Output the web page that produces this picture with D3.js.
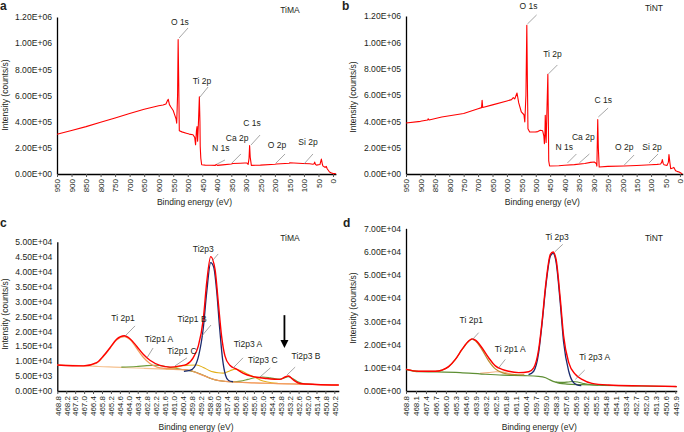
<!DOCTYPE html>
<html>
<head>
<meta charset="utf-8">
<script src="https://cdn.jsdelivr.net/npm/d3@7"></script>
<style>
body { margin: 0; background: #fff; }
svg text { font-family: "Liberation Sans", Arial, Helvetica, sans-serif; fill: #231f20; }
</style>
</head>
<body>
<svg id="chart" width="684" height="432"></svg>
<script>
// ---- data: [binding energy (eV), intensity (counts/s)] ----
var surveyTiMA = [[950,304000],[900,333000],[850,362000],[800,395000],[750,428000],[700,462000],[650,495000],[600,522000],[585,527000],[575,535000],[570,560000],[567,571000],[563,530000],[558,512000],[550,485000],[545,452000],[540,420000],[538,388000],[535,600000],[533,1027000],[531,700000],[529,330000],[520,322000],[505,312000],[495,305000],[482,300000],[476,280000],[473,223000],[470,330000],[468,363000],[466,250000],[463,400000],[460,591000],[458,400000],[457,210000],[455,120000],[452,71000],[440,68000],[420,67000],[405,66000],[402,73000],[398,66000],[380,70000],[350,76000],[345,80000],[320,82000],[304,84000],[296,84000],[292,74000],[289,120000],[287,218000],[285,130000],[281,66000],[250,68000],[200,74000],[195,76000],[150,82000],[149,86000],[120,82000],[104,80000],[80,78000],[69,75000],[65,78000],[63,91000],[60,72000],[57,68000],[45,72000],[40,114000],[37,80000],[35,62000],[28,52000],[23,58000],[20,40000],[12,15000],[5,8000],[0,5000],[-10,2000]];

var surveyTiNT = [[950,387000],[900,400000],[875,410000],[873,420000],[870,410000],[826,433000],[750,460000],[700,495000],[688,504000],[686,560000],[684,505000],[650,525000],[600,555000],[584,565000],[578,580000],[573,570000],[565,615000],[559,540000],[550,471000],[541,450000],[538,395000],[534,600000],[531,1129000],[529,700000],[527,344000],[521,319000],[500,320000],[493,322000],[484,332000],[476,328000],[472,290000],[470,230000],[468,320000],[467,446000],[465,300000],[464,240000],[461,500000],[458,757000],[456,350000],[455,100000],[452,61000],[420,63000],[400,66000],[366,71000],[330,80000],[310,88000],[297,91000],[290,80000],[288,60000],[286,300000],[285,413000],[283,200000],[280,53000],[250,58000],[194,61000],[150,65000],[100,70000],[79,73000],[67,76000],[63,90000],[61,109000],[58,80000],[55,70000],[45,65000],[40,90000],[38,147000],[35,90000],[32,40000],[25,45000],[21,50000],[15,25000],[10,20000],[3,15000],[-5,5000],[-8,2000]];

// TiMA Ti 2p high resolution
var tiMAEnvelope = [[468.8,8700],[467.05,8400],[466.16,9500],[465.71,11700],[465.26,14500],[464.82,17300],[464.3,18500],[463.92,17500],[463.47,15000],[463.03,12300],[462.58,10300],[461.91,8600],[461.24,8000],[460.56,8400],[460.12,8900],[459.67,11200],[459.33,15100],[459.0,24000],[458.77,36300],[458.5,45000],[458.21,40700],[457.99,29600],[457.77,18400],[457.54,11700],[457.21,8600],[456.76,7300],[456.31,5900],[455.64,4800],[454.74,4200],[453.85,3900],[453.51,4700],[453.29,5000],[452.95,3700],[452.51,2500],[451.39,2200],[449.9,2000]];
var tiMA2p3 = [[460.3,6600],[459.9,6900],[459.6,8000],[459.3,12000],[459.0,21000],[458.77,33000],[458.5,43000],[458.3,41500],[458.1,33500],[457.9,21000],[457.7,10500],[457.5,5200],[457.3,3500],[457.0,3100]];
var tiMA2p1 = [[468.8,8700],[467.0,8400],[466.16,9300],[465.71,11500],[465.26,14300],[464.82,17100],[464.3,18200],[463.92,17200],[463.47,14300],[463.03,11300],[462.58,9200],[462.1,8000],[461.5,7500],[460.5,7200],[459.9,6900],[459.4,6000],[458.8,4800],[458.3,3900],[457.5,3200],[456.0,2800],[454.0,2500],[452.0,2200],[449.9,2000]];
var tiMABackground = [[468.8,8700],[467.0,8500],[466.0,8200],[465.0,8000],[464.0,7800],[463.0,7600],[462.0,7400],[461.0,7200],[460.0,6900],[459.5,6300],[459.0,5300],[458.5,4200],[458.0,3500],[457.0,3000],[455.0,2600],[453.0,2400],[451.0,2100],[449.9,2000]];
var tiMAGreen = [[464.5,8000],[463.5,8200],[462.8,8500],[462.2,8600],[461.6,8300],[461.0,7700],[460.5,7300],[460.0,6900],[459.5,6300],[459.0,5300],[458.5,4200],[458.0,3500],[457.0,3100],[456.5,3300],[456.0,3900],[455.5,4500],[455.0,4700],[454.5,4400],[454.0,4000],[453.6,4300],[453.3,4800],[453.0,4200],[452.6,3000],[452.2,2400],[451.5,2200]];
var tiMAGold = [[461.5,7500],[460.9,7800],[460.56,8300],[460.0,8600],[459.44,8700],[459.0,7900],[458.6,6900],[458.33,6400],[458.0,6100],[457.65,6000],[457.2,6800],[456.87,7300],[456.5,6900],[456.0,5600],[455.5,4500],[455.19,3700],[454.7,3000],[454.0,2600]];

// TiNT Ti 2p high resolution
var tiNTEnvelope = [[468.8,9300],[467.91,8500],[466.74,8500],[466.27,9000],[465.81,10500],[465.34,13600],[464.87,17900],[464.4,21500],[464.17,22400],[463.93,21900],[463.47,18600],[463.0,14300],[462.53,10800],[462.06,9300],[461.6,8500],[460.89,7900],[460.19,8300],[459.84,10000],[459.49,17900],[459.26,29400],[458.98,46600],[458.67,58800],[458.48,59800],[458.27,56700],[457.97,39400],[457.74,23700],[457.38,12200],[456.92,7200],[456.45,5000],[455.75,3300],[454.58,2600],[452.24,2200],[449.8,1900]];
var tiNT2p3 = [[460.2,7000],[459.84,8500],[459.49,16500],[459.26,28500],[458.98,45500],[458.67,58000],[458.48,59200],[458.27,55500],[457.97,37500],[457.74,21000],[457.38,8500],[457.1,4000],[456.8,2600],[456.5,2300]];
var tiNT2p1 = [[468.8,9300],[467.9,8500],[466.74,8500],[466.27,9000],[465.81,10400],[465.34,13500],[464.87,17800],[464.4,21400],[464.17,22300],[463.93,21600],[463.47,17800],[463.0,13000],[462.53,9500],[462.06,7900],[461.6,7200],[461.0,7000],[460.5,6900]];
var tiNT2p1A = [[463.6,7600],[463.0,7900],[462.5,8300],[462.0,8200],[461.5,7400],[461.0,6900]];
var tiNTBackground = [[468.8,9300],[467.9,8300],[466.7,8200],[465.0,7900],[463.5,7300],[462.0,6800],[460.5,6600],[459.5,6300],[459.0,5700],[458.7,4800],[458.3,3800],[458.0,3300],[457.5,3000],[456.5,2700],[455.0,2400],[453.0,2200],[449.8,1900]];
var tiNT2p3A = [[458.3,3800],[457.8,3700],[457.4,3900],[457.06,4100],[456.7,3800],[456.3,3200],[455.8,2700],[455.3,2500]];

// ---- axis tick labels ----
var surveyTicks = [950,900,850,800,750,700,650,600,550,500,450,400,350,300,250,200,150,100,50,0];
var tiMATicks = ["468.8","468.2","467.6","467.0","466.4","465.8","465.2","464.6","464.0","463.4","462.8","462.2","461.6","461.0","460.4","459.8","459.2","458.6","458.0","457.4","456.8","456.2","455.6","455.0","454.4","453.8","453.2","452.6","452.0","451.4","450.8","450.2"];
var tiNTTicks = ["468.8","468.1","467.4","466.7","466.0","465.3","464.6","463.9","463.2","462.5","461.8","461.1","460.4","459.7","459.0","458.3","457.6","456.9","456.2","455.5","454.8","454.1","453.4","452.7","452.0","451.3","450.6","449.9"];

// ---- peak labels: text at (e, v), leader line from (e1, v1) to (e2, v2) ----
var labelsA = [
  {t:"O 1s", e:527, v:1162000, e1:499, v1:1116000, e2:530, v2:1039000},
  {t:"Ti 2p", e:451, v:711000, e1:430, v1:665000, e2:458, v2:588000},
  {t:"C 1s", e:279, v:390000, e1:251, v1:298000, e2:282, v2:222000},
  {t:"Ca 2p", e:330, v:275000, e1:317, v1:153000, e2:348, v2:84000},
  {t:"N 1s", e:386, v:199000, e1:372, v1:107000, e2:399, v2:76000},
  {t:"O 2p", e:193, v:222000, e1:165, v1:153000, e2:196, v2:84000},
  {t:"Si 2p", e:86, v:245000, e1:69, v1:153000, e2:100, v2:76000}
];
var labelsB = [
  {t:"O 1s", e:525, v:1276000, e1:497, v1:1208000, e2:529, v2:1139000},
  {t:"Ti 2p", e:442, v:911000, e1:425, v1:828000, e2:456, v2:760000},
  {t:"C 1s", e:266, v:562000, e1:249, v1:501000, e2:283, v2:433000},
  {t:"Ca 2p", e:335, v:281000, e1:314, v1:152000, e2:349, v2:84000},
  {t:"N 1s", e:401, v:205000, e1:359, v1:152000, e2:390, v2:84000},
  {t:"O 2p", e:193, v:205000, e1:159, v1:144000, e2:193, v2:68000},
  {t:"Si 2p", e:97, v:205000, e1:76, v1:152000, e2:107, v2:84000}
];
var labelsC = [
  {t:"Ti 2p1", e:464.39, v:24400, e1:463.58, v1:21800, e2:464.25, v2:18400},
  {t:"Ti2p1 A", e:461.97, v:17400, e1:462.37, v1:14400, e2:462.78, v2:11100},
  {t:"Ti2p1 C", e:460.43, v:13400, e1:460.09, v1:11100, e2:460.9, v2:8400},
  {t:"Ti2p1 B", e:459.75, v:24100, e1:458.48, v1:22100, e2:459.15, v2:18100},
  {t:"Ti2p3", e:459.0, v:47600, e1:458.0, v1:45900, e2:458.41, v2:43500},
  {t:"Ti2p3 A", e:456.0, v:15700, e1:456.33, v1:11100, e2:457.0, v2:7700},
  {t:"Ti2p3 C", e:455.0, v:10400, e1:454.5, v1:7700, e2:455.19, v2:4700},
  {t:"Ti2p3 B", e:452.1, v:11700, e1:452.83, v1:8000, e2:453.37, v2:5400}
];
var labelsD = [
  {t:"Ti 2p3", e:458.2, v:66300, e1:457.8, v1:63100, e2:458.37, v2:59800},
  {t:"Ti 2p1", e:464.22, v:30400, e1:463.7, v1:25100, e2:464.17, v2:21900},
  {t:"Ti 2p1 A", e:461.48, v:17900, e1:461.83, v1:13600, e2:462.29, v2:10000},
  {t:"Ti 2p3 A", e:455.56, v:14800, e1:456.26, v1:9000, e2:456.92, v2:5000}
];
var arrowC = {e:453.55, top:25400, base:17100, tip:14400};

var svg = d3.select("#chart");

function sci(d) {
  var p = d.toExponential(2).split("e");
  var ex = parseInt(p[1], 10);
  return p[0] + "E" + (ex < 0 ? "-" : "+") + (Math.abs(ex) < 10 ? "0" : "") + Math.abs(ex);
}

function drawPanel(cfg) {
  var g = svg.append("g");
  var xScale = d3.scaleLinear().domain(cfg.xDomain).range([cfg.left, cfg.right]);
  var yScale = d3.scaleLinear().domain([0, cfg.yMax]).range([cfg.bottom, cfg.top]);

  //Y axis
  g.append("g")
    .attr("transform", "translate(" + cfg.left + ",0)")
    .call(d3.axisLeft(yScale).tickValues(d3.range(0, cfg.yMax + cfg.yStep / 2, cfg.yStep)).tickFormat(sci).tickSize(0).tickPadding(5))
    .call(function (a) {
      a.select(".domain").attr("stroke", "#000").attr("stroke-width", 1.3);
      a.selectAll("text").attr("font-size", "8.6px").attr("fill", "#231f20").attr("font-family", null);
    });

  //X axis
  var xAxis = d3.axisBottom(xScale).tickValues(cfg.ticks.map(Number))
    .tickFormat(function (d, i) { return cfg.tickText ? cfg.tickText[i] : d; })
    .tickSize(3).tickSizeOuter(0);
  g.append("g")
    .attr("transform", "translate(0," + cfg.bottom + ")")
    .call(xAxis)
    .call(function (a) {
      a.select(".domain").attr("stroke", "#000").attr("stroke-width", 1.3);
      a.selectAll("line").attr("stroke", "#555");
      a.selectAll("text")
        .attr("font-size", "8px").attr("fill", "#231f20").attr("font-family", null)
        .attr("text-anchor", "end")
        .attr("transform", "rotate(-90)")
        .attr("x", -5).attr("y", 0).attr("dy", "0.35em");
    });

  //Curves
  var line = d3.line()
    .x(function (d) { return xScale(d[0]); })
    .y(function (d) { return yScale(d[1]); });
  cfg.series.forEach(function (s) {
    g.append("path")
      .datum(s.data)
      .attr("fill", "none")
      .attr("stroke", s.color)
      .attr("stroke-width", s.w)
      .attr("stroke-linejoin", "round")
      .attr("d", line.curve(s.smooth ? d3.curveMonotoneX : d3.curveLinear));
  });

  //Peak labels
  cfg.labels.forEach(function (l) {
    g.append("line")
      .attr("x1", xScale(l.e1)).attr("y1", yScale(l.v1))
      .attr("x2", xScale(l.e2)).attr("y2", yScale(l.v2))
      .attr("stroke", "#808080").attr("stroke-width", 0.7);
    g.append("text")
      .attr("x", xScale(l.e)).attr("y", yScale(l.v))
      .attr("dy", "0.35em")
      .attr("text-anchor", "middle")
      .attr("font-size", "8.5px")
      .text(l.t);
  });

  if (cfg.arrow) {
    var ax = xScale(cfg.arrow.e);
    g.append("line")
      .attr("x1", ax).attr("x2", ax)
      .attr("y1", yScale(cfg.arrow.top)).attr("y2", yScale(cfg.arrow.base) + 1)
      .attr("stroke", "#000").attr("stroke-width", 1.8);
    g.append("path")
      .attr("d", "M" + (ax - 4) + "," + yScale(cfg.arrow.base) + "L" + (ax + 4) + "," + yScale(cfg.arrow.base) + "L" + ax + "," + yScale(cfg.arrow.tip) + "Z")
      .attr("fill", "#000");
  }

  //Titles
  g.append("text")
    .attr("x", cfg.letterX).attr("y", cfg.letterY)
    .attr("font-size", "12px").attr("font-weight", "bold")
    .text(cfg.letter);
  g.append("text")
    .attr("x", cfg.sampleX).attr("y", cfg.sampleY)
    .attr("text-anchor", "middle")
    .attr("font-size", "8.5px")
    .text(cfg.sample);
  g.append("text")
    .attr("x", (cfg.left + cfg.right) / 2 - 2).attr("y", cfg.xTitleY)
    .attr("text-anchor", "middle")
    .attr("font-size", "8.5px")
    .text("Binding energy (eV)");
  g.append("text")
    .attr("transform", "translate(" + cfg.yTitleX + "," + cfg.yTitleY + ") rotate(-90)")
    .attr("text-anchor", "middle")
    .attr("font-size", "8.5px")
    .text("Intensity (counts/s)");
}

drawPanel({
  letter: "a", letterX: 0, letterY: 10,
  sample: "TiMA", sampleX: 290, sampleY: 13,
  left: 57, right: 335.9, top: 17, bottom: 174,
  xDomain: [950, -10], yMax: 1.2e6, yStep: 2e5,
  ticks: surveyTicks,
  series: [{data: surveyTiMA, color: "#ff0000", w: 1.1}],
  labels: labelsA,
  xTitleY: 205,
  yTitleX: 7.5, yTitleY: 95
});

drawPanel({
  letter: "b", letterX: 342, letterY: 10,
  sample: "TiNT", sampleX: 654, sampleY: 11,
  left: 406, right: 682.8, top: 16, bottom: 174,
  xDomain: [950, -10], yMax: 1.2e6, yStep: 2e5,
  ticks: surveyTicks,
  series: [{data: surveyTiNT, color: "#ff0000", w: 1.1}],
  labels: labelsB,
  xTitleY: 205,
  yTitleX: 355.5, yTitleY: 97
});

drawPanel({
  letter: "c", letterX: 0, letterY: 227,
  sample: "TiMA", sampleX: 290, sampleY: 241,
  left: 57.3, right: 338.8, top: 241.7, bottom: 391,
  xDomain: [468.8, 449.9], yMax: 5e4, yStep: 5e3,
  ticks: tiMATicks, tickText: tiMATicks,
  series: [
    {data: tiMABackground, color: "#f5c18f", w: 1.1, smooth: true},
    {data: tiMAGreen, color: "#6f9d3c", w: 1.1, smooth: true},
    {data: tiMAGold, color: "#e2b019", w: 1.1, smooth: true},
    {data: tiMA2p1, color: "#f39a5c", w: 1.2, smooth: true},
    {data: tiMA2p3, color: "#1b2a6e", w: 1.3, smooth: true},
    {data: tiMAEnvelope, color: "#ff0000", w: 1.4, smooth: true}
  ],
  labels: labelsC,
  arrow: arrowC,
  xTitleY: 429.5,
  yTitleX: 7.5, yTitleY: 314
});

drawPanel({
  letter: "d", letterX: 343, letterY: 227,
  sample: "TiNT", sampleX: 654, sampleY: 241,
  left: 406, right: 676.75, top: 228.3, bottom: 391,
  xDomain: [468.8, 449.8], yMax: 7e4, yStep: 1e4,
  ticks: tiNTTicks, tickText: tiNTTicks,
  series: [
    {data: tiNT2p1A, color: "#f4b183", w: 1.1, smooth: true},
    {data: tiNTBackground, color: "#5e8f34", w: 1.2, smooth: true},
    {data: tiNT2p3A, color: "#5e8f34", w: 1.1, smooth: true},
    {data: tiNT2p1, color: "#b98a2c", w: 1.2, smooth: true},
    {data: tiNT2p3, color: "#1b2a6e", w: 1.3, smooth: true},
    {data: tiNTEnvelope, color: "#ff0000", w: 1.4, smooth: true}
  ],
  labels: labelsD,
  xTitleY: 429.5,
  yTitleX: 356, yTitleY: 308
});
</script>
</body>
</html>
